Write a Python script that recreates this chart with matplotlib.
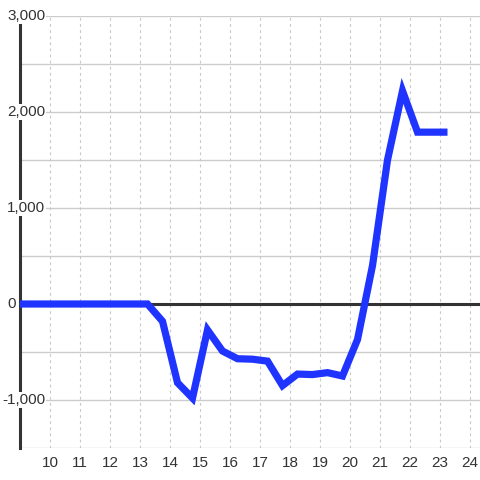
import matplotlib
matplotlib.use("Agg")
import matplotlib.pyplot as plt
import matplotlib.transforms as mtransforms

# hourly series, sampled at half-hour offsets
hours = [8.75, 9.25, 9.75, 10.25, 10.75, 11.25, 11.75, 12.25, 12.75, 13.25,
         13.75, 14.25, 14.75, 15.25, 15.75, 16.25, 16.75, 17.25, 17.75, 18.25,
         18.75, 19.25, 19.75, 20.25, 20.75, 21.25, 21.75, 22.25, 22.75, 23.25]
values = [0, 0, 0, 0, 0, 0, 0, 0, 0, 0,
          -180, -820, -980, -270, -490, -570, -575, -595, -850, -730,
          -735, -715, -750, -370, 400, 1500, 2220, 1790, 1790, 1790]
xticks = list(range(10, 25))
yticks_major = [-1000, 0, 1000, 2000, 3000]
yticks_grid = [-1500, -1000, -500, 0, 500, 1000, 1500, 2000, 2500, 3000]

plt.rcParams["font.family"] = ["Liberation Sans", "DejaVu Sans"]

fig = plt.figure(figsize=(4.8, 4.8), dpi=100)
ax = fig.add_axes([20/480, 32/480, 460/480, 432/480])
ax.set_xlim(9, 24.333)
ax.set_ylim(-1500, 3000)

for s in ["top", "right", "bottom"]:
    ax.spines[s].set_visible(False)
ax.spines["left"].set_color("#333333")
ax.spines["left"].set_linewidth(2.2)
ax.spines["left"].set_zorder(4)

for yv in yticks_grid:
    ax.axhline(yv, color="#cccccc", lw=1, zorder=1)
for xv in xticks:
    ax.axvline(xv, color="#c8c8c8", lw=0.8, ls=(0, (2.5, 3)), zorder=1)
ax.axhline(0, color="#333333", lw=2.2, zorder=2)

ax.plot(hours, values, color="#1f35ff", lw=5.2, zorder=6,
        solid_joinstyle="miter", solid_capstyle="butt")

ax.set_xticks(xticks)
ax.set_xticklabels([str(t) for t in xticks])
ax.tick_params(axis="x", length=0, pad=6, labelsize=11, labelcolor="#333333")
ax.set_yticks([])

# value labels sit inside the plot, left-aligned, with the minus hanging out
trans = mtransforms.blended_transform_factory(fig.transFigure, ax.transData)
for yv in yticks_major:
    x0 = 2 if yv < 0 else 7
    ax.text(x0/480, yv, f"{yv:,}", transform=trans, ha="left", va="center",
            fontsize=11, color="#333333", zorder=5, clip_on=False,
            bbox=dict(boxstyle="square,pad=0.08", fc="white", ec="none"))

plt.savefig("out.png", dpi=100)
